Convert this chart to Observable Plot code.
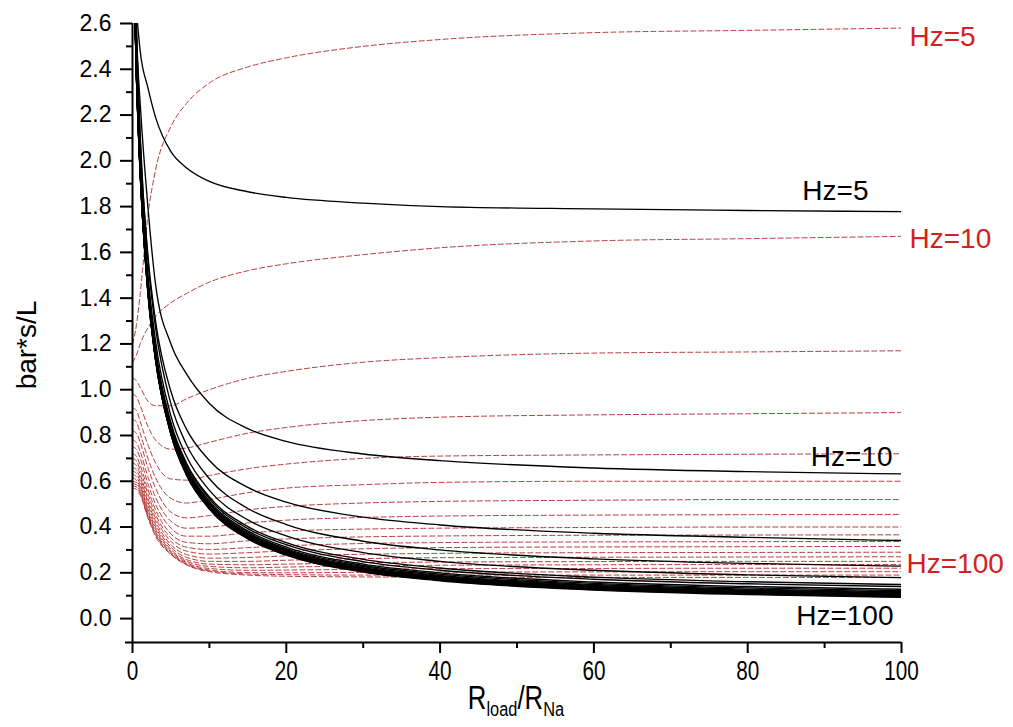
<!DOCTYPE html>
<html><head><meta charset="utf-8">
<script src="https://cdn.jsdelivr.net/npm/d3@7"></script>
<script src="https://cdn.jsdelivr.net/npm/@observablehq/plot@0.6"></script>
<style>
body{margin:0;background:#fff;}
#chart{width:1013px;height:727px;}
</style></head><body><div id="chart"></div>
<script>
// R_load/R_Na sample positions
const R = [0, 0.5, 1, 2, 3, 5, 7, 10, 15, 20, 30, 40, 60, 80, 100];
// frequency of each curve
const hzLevels = [5,10,15,20,25,30,35,40,45,50,55,60,65,70,75,80,85,90,95,100];

// solid black curves (one row per Hz)
const solidCurves = [
 [2.99, 2.67, 2.48, 2.32, 2.19, 2.04, 1.97, 1.91, 1.865, 1.84, 1.815, 1.80, 1.79, 1.783, 1.778],
 [3.15, 2.55, 2.25, 1.80, 1.46, 1.20, 1.07, 0.94, 0.83, 0.774, 0.719, 0.69, 0.658, 0.642, 0.632],
 [3.30, 2.60, 2.10, 1.59, 1.30, 0.992, 0.829, 0.691, 0.573, 0.509, 0.443, 0.409, 0.373, 0.355, 0.341],
 [3.34, 2.58, 2.11, 1.57, 1.27, 0.938, 0.762, 0.611, 0.481, 0.411, 0.338, 0.30, 0.261, 0.241, 0.229],
 [3.22, 2.49, 2.04, 1.51, 1.212, 0.885, 0.71, 0.56, 0.431, 0.361, 0.288, 0.25, 0.211, 0.191, 0.179],
 [3.16, 2.45, 2.00, 1.48, 1.18, 0.856, 0.681, 0.531, 0.402, 0.332, 0.259, 0.221, 0.181, 0.161, 0.149],
 [3.14, 2.43, 1.99, 1.47, 1.17, 0.848, 0.673, 0.523, 0.393, 0.323, 0.249, 0.211, 0.172, 0.152, 0.14],
 [3.10, 2.41, 1.97, 1.46, 1.16, 0.838, 0.663, 0.513, 0.383, 0.312, 0.238, 0.20, 0.16, 0.14, 0.128],
 [3.10, 2.40, 1.97, 1.45, 1.16, 0.832, 0.657, 0.507, 0.377, 0.306, 0.232, 0.194, 0.154, 0.134, 0.122],
 [3.09, 2.40, 1.96, 1.45, 1.15, 0.827, 0.652, 0.502, 0.372, 0.301, 0.227, 0.189, 0.149, 0.129, 0.117],
 [3.09, 2.39, 1.96, 1.44, 1.15, 0.823, 0.648, 0.498, 0.368, 0.297, 0.223, 0.185, 0.145, 0.125, 0.113],
 [3.08, 2.39, 1.96, 1.44, 1.15, 0.820, 0.645, 0.495, 0.365, 0.294, 0.220, 0.182, 0.142, 0.122, 0.110],
 [3.08, 2.39, 1.95, 1.44, 1.14, 0.817, 0.642, 0.492, 0.362, 0.291, 0.217, 0.179, 0.139, 0.119, 0.107],
 [3.08, 2.39, 1.95, 1.44, 1.14, 0.815, 0.640, 0.490, 0.360, 0.289, 0.215, 0.177, 0.137, 0.117, 0.105],
 [3.08, 2.38, 1.95, 1.43, 1.14, 0.813, 0.638, 0.488, 0.358, 0.287, 0.213, 0.175, 0.135, 0.115, 0.103],
 [3.08, 2.38, 1.95, 1.43, 1.14, 0.811, 0.636, 0.486, 0.356, 0.285, 0.211, 0.173, 0.133, 0.113, 0.101],
 [3.07, 2.38, 1.95, 1.43, 1.13, 0.809, 0.634, 0.484, 0.354, 0.283, 0.209, 0.171, 0.131, 0.111, 0.099],
 [3.07, 2.38, 1.94, 1.43, 1.13, 0.807, 0.632, 0.482, 0.352, 0.281, 0.207, 0.169, 0.129, 0.109, 0.097],
 [3.07, 2.38, 1.94, 1.43, 1.13, 0.805, 0.630, 0.480, 0.350, 0.279, 0.205, 0.167, 0.127, 0.107, 0.095],
 [3.07, 2.37, 1.94, 1.42, 1.13, 0.803, 0.628, 0.478, 0.348, 0.277, 0.203, 0.165, 0.125, 0.105, 0.093]
];

// dashed red curves (one row per Hz)
const dashedCurves = [
 [1.20, 1.28, 1.42, 1.76, 1.96, 2.15, 2.25, 2.34, 2.41, 2.45, 2.50, 2.53, 2.56, 2.57, 2.58],
 [1.12, 1.15, 1.20, 1.27, 1.32, 1.38, 1.42, 1.47, 1.52, 1.55, 1.59, 1.62, 1.65, 1.66, 1.67],
 [1.05, 1.04, 1.01, 0.95, 0.93, 0.93, 0.96, 1.00, 1.05, 1.08, 1.12, 1.14, 1.16, 1.165, 1.17],
 [0.98, 0.97, 0.93, 0.84, 0.78, 0.74, 0.745, 0.77, 0.81, 0.835, 0.865, 0.88, 0.89, 0.895, 0.90],
 [0.92, 0.91, 0.86, 0.76, 0.68, 0.61, 0.605, 0.625, 0.655, 0.675, 0.70, 0.71, 0.715, 0.718, 0.72],
 [0.87, 0.86, 0.81, 0.70, 0.615, 0.525, 0.505, 0.52, 0.55, 0.57, 0.585, 0.595, 0.60, 0.60, 0.60],
 [0.82, 0.81, 0.77, 0.66, 0.57, 0.465, 0.44, 0.45, 0.475, 0.49, 0.505, 0.512, 0.517, 0.52, 0.52],
 [0.78, 0.77, 0.73, 0.62, 0.53, 0.425, 0.395, 0.40, 0.418, 0.43, 0.442, 0.448, 0.452, 0.454, 0.455],
 [0.75, 0.74, 0.70, 0.59, 0.50, 0.395, 0.36, 0.36, 0.375, 0.383, 0.391, 0.395, 0.398, 0.40, 0.40],
 [0.72, 0.71, 0.67, 0.565, 0.475, 0.37, 0.333, 0.327, 0.34, 0.348, 0.357, 0.361, 0.364, 0.365, 0.366],
 [0.70, 0.69, 0.65, 0.545, 0.455, 0.352, 0.312, 0.302, 0.31, 0.318, 0.328, 0.332, 0.335, 0.336, 0.337],
 [0.68, 0.67, 0.63, 0.525, 0.44, 0.337, 0.295, 0.282, 0.288, 0.296, 0.305, 0.31, 0.313, 0.314, 0.315],
 [0.66, 0.65, 0.615, 0.51, 0.425, 0.323, 0.28, 0.264, 0.267, 0.274, 0.281, 0.285, 0.288, 0.289, 0.29],
 [0.645, 0.635, 0.60, 0.495, 0.412, 0.312, 0.268, 0.25, 0.25, 0.255, 0.262, 0.266, 0.268, 0.269, 0.27],
 [0.63, 0.62, 0.585, 0.48, 0.40, 0.302, 0.258, 0.238, 0.235, 0.238, 0.244, 0.247, 0.249, 0.25, 0.25],
 [0.615, 0.605, 0.575, 0.47, 0.39, 0.296, 0.251, 0.228, 0.222, 0.225, 0.23, 0.233, 0.235, 0.236, 0.236],
 [0.60, 0.595, 0.565, 0.46, 0.38, 0.29, 0.245, 0.219, 0.211, 0.212, 0.215, 0.218, 0.219, 0.22, 0.22],
 [0.59, 0.585, 0.555, 0.45, 0.372, 0.285, 0.24, 0.212, 0.201, 0.20, 0.202, 0.203, 0.204, 0.205, 0.205],
 [0.58, 0.575, 0.548, 0.445, 0.366, 0.282, 0.237, 0.208, 0.195, 0.192, 0.19, 0.19, 0.19, 0.19, 0.19],
 [0.57, 0.565, 0.54, 0.44, 0.36, 0.28, 0.235, 0.205, 0.19, 0.185, 0.182, 0.181, 0.18, 0.18, 0.18]
];

const yTicks = [0, 0.2, 0.4, 0.6, 0.8, 1.0, 1.2, 1.4, 1.6, 1.8, 2.0, 2.2, 2.4, 2.6];
const yMinorTicks = [0.1, 0.3, 0.5, 0.7, 0.9, 1.1, 1.3, 1.5, 1.7, 1.9, 2.1, 2.3, 2.5];
const xTicks = [0, 20, 40, 60, 80, 100];
const xMinorTicks = [10, 30, 50, 70, 90];
const labelledHz = [5, 10, 100];

function toRows(curves) {
  const out = [];
  curves.forEach((vals, i) => vals.forEach((v, j) => out.push({hz: hzLevels[i], r: R[j], v})));
  return out;
}
const solidRows = toRows(solidCurves);
const dashedRows = toRows(dashedCurves);
const lastR = R[R.length - 1];
const endPoint = (rows, hz) => rows.filter(d => d.hz === hz && d.r === lastR);

const yMin = -0.1045, yMax = 2.6;
const font = "Arial, 'Liberation Sans', sans-serif";
const red = "#d42020";
const lbl = d => `Hz=${d.hz}`;
const narrowFactor = 0.74;

const chart = Plot.plot({
  width: 1013, height: 727,
  marginLeft: 132, marginRight: 112, marginTop: 23, marginBottom: 85,
  x: {domain: [0, 100]},
  y: {domain: [yMin, yMax]},
  style: {fontFamily: font, background: "#fff", color: "#000"},
  marks: [
    Plot.line(dashedRows, {x: "r", y: "v", z: "hz", stroke: "#b83a3a", strokeWidth: 1,
      strokeDasharray: "5,3", curve: "monotone-x", clip: true}),
    Plot.line(solidRows, {x: "r", y: "v", z: "hz", stroke: "#000", strokeWidth: 1.35,
      curve: "monotone-x", clip: true}),
    Plot.ruleX([0], {stroke: "#000", strokeWidth: 2}),
    Plot.ruleY([yMin], {stroke: "#000", strokeWidth: 2, insetLeft: -7}),
    Plot.axisY({ticks: yTicks, tickSize: 12, tickPadding: 9, tickFormat: d3.format(".1f"),
      fontSize: 23, strokeWidth: 2, label: null}),
    Plot.axisY({ticks: yMinorTicks, tickSize: 6, tickFormat: () => "", strokeWidth: 2, label: null}),
    Plot.axisX({ticks: xTicks, tickSize: 11, tickPadding: 7, fontSize: 28,
      strokeWidth: 2, label: null}),
    Plot.axisX({ticks: xMinorTicks, tickSize: 6, tickFormat: () => "", strokeWidth: 2, label: null}),
    // black labels
    Plot.text(endPoint(solidRows, labelledHz[0]), {x: "r", y: "v", text: lbl, dx: -33, dy: -21, textAnchor: "end", fontSize: 28, fill: "#000"}),
    Plot.text(endPoint(solidRows, labelledHz[1]), {x: "r", y: "v", text: lbl, dx: -9, dy: -17, textAnchor: "end", fontSize: 28, fill: "#000"}),
    Plot.text(endPoint(solidRows, labelledHz[2]), {x: "r", y: "v", text: lbl, dx: -8, dy: 19, textAnchor: "end", fontSize: 28, fill: "#000"}),
    // red labels
    Plot.text(endPoint(dashedRows, labelledHz[0]), {x: "r", y: "v", text: lbl, dx: 8, dy: 9, textAnchor: "start", fontSize: 28, fill: red}),
    Plot.text(endPoint(dashedRows, labelledHz[1]), {x: "r", y: "v", text: lbl, dx: 8, dy: 3, textAnchor: "start", fontSize: 28, fill: red}),
    Plot.text(endPoint(dashedRows, labelledHz[2]), {x: "r", y: "v", text: lbl, dx: 5, dy: -13, textAnchor: "start", fontSize: 28, fill: red})
  ]
});

document.getElementById("chart").appendChild(chart);
const svg = d3.select(chart);

// condensed look for the x tick labels (narrow face in the original)
svg.selectAll('[aria-label="x-axis tick label"] text').each(function() {
  const b = this.getBBox();
  const cx = b.x + b.width / 2;
  const t = this.getAttribute("transform") || "";
  this.setAttribute("transform", `${t} translate(${cx},0) scale(${narrowFactor},1) translate(${-cx},0)`);
});

svg.append("text")
  .attr("transform", "translate(36,345) rotate(-90)")
  .attr("text-anchor", "middle")
  .attr("font-family", font)
  .attr("font-size", 28)
  .attr("fill", "#000")
  .text("bar*s/L");

const xt = svg.append("text")
  .attr("x", 516).attr("y", 709)
  .attr("text-anchor", "middle")
  .attr("transform", `translate(516,0) scale(0.78,1) translate(-516,0)`)
  .attr("font-family", font)
  .attr("font-size", 33)
  .attr("fill", "#000");
xt.append("tspan").text("R");
xt.append("tspan").attr("font-size", 21).attr("dy", 7).text("load");
xt.append("tspan").attr("font-size", 33).attr("dy", -7).text("/R");
xt.append("tspan").attr("font-size", 21).attr("dy", 7).text("Na");
</script>
</body></html>
